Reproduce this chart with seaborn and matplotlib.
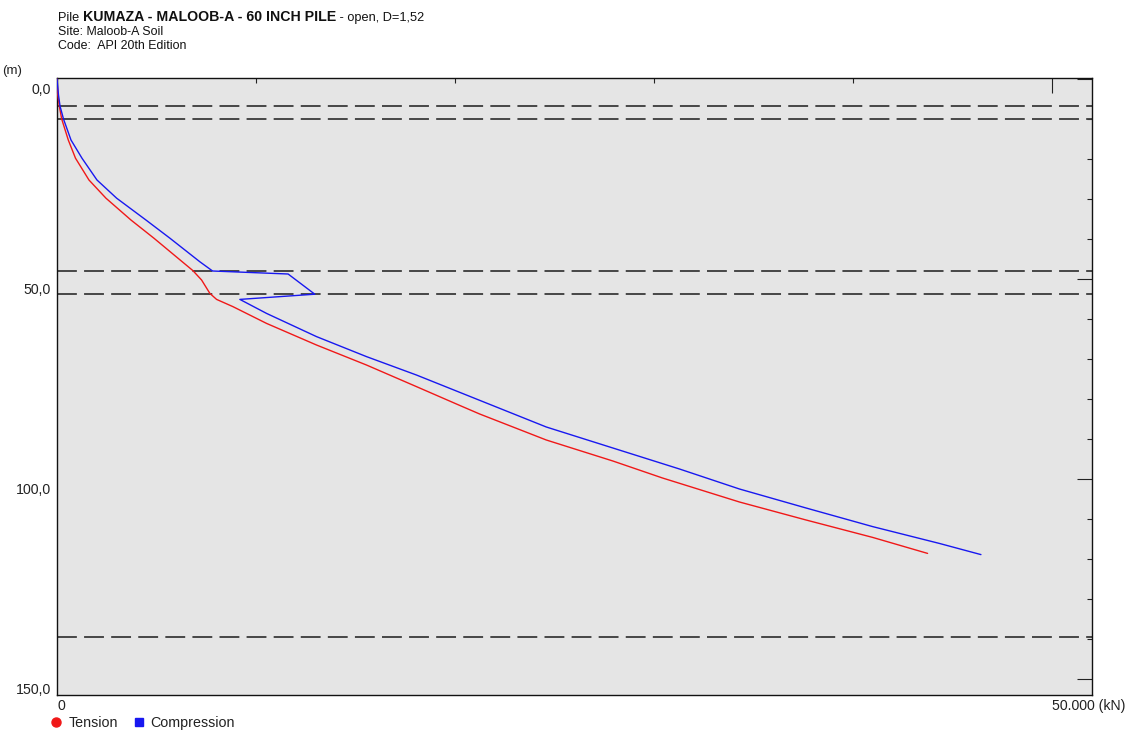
import matplotlib
matplotlib.use("Agg")
import matplotlib.pyplot as plt
import matplotlib.transforms as mtransforms
from matplotlib.lines import Line2D
import seaborn as sns
import pandas as pd

# pile capacity vs penetration
tension_depth = [0.0, 4.0, 6.75, 10.0, 15.25, 19.8, 25.25, 29.8, 35.25, 39.8, 47.9, 50.25,
                 53.6, 55.1, 56.9, 61.1, 66.5, 71.5, 76.9, 81.6, 83.75, 90.25, 95.5,
                 99.75, 105.75, 110.25, 114.6, 118.6]
tension_load = [0, 40, 115, 236, 567, 929, 1606, 2460, 3715, 4869, 6827, 7264,
                7681, 8017, 8835, 10527, 13037, 15547, 18057, 20231, 21235, 24583, 27927,
                30421, 34287, 37635, 40978, 43739]

compression_depth = [0.0, 4.0, 6.75, 10.0, 15.25, 19.8, 25.25, 29.8, 35.25, 39.8, 45.7, 48.0,
                     48.75, 53.8, 55.1, 58.6, 64.4, 69.4, 74.0, 79.0, 82.0, 87.0, 92.25,
                     97.5, 102.5, 107.25, 111.9, 116.1, 118.9]
compression_load = [0, 75, 151, 326, 703, 1255, 2008, 2997, 4468, 5673, 7179, 7816,
                    11611, 12952, 9187, 10527, 13037, 15547, 18057, 20567, 22073, 24583, 27927,
                    31275, 34287, 37635, 40978, 44327, 46420]

# soil layer boundaries (m)
layer_depths = [6.75, 10.0, 48.0, 53.8, 139.5]

x_ticks = [0, 50000]
x_tick_labels = ['0', '50.000 (kN)']
y_ticks = [0, 50, 100, 150]
y_tick_labels = ['0,0', '50,0', '100,0', '150,0']

df = pd.concat([
    pd.DataFrame({'load': tension_load, 'depth': tension_depth, 'series': 'Tension'}),
    pd.DataFrame({'load': compression_load, 'depth': compression_depth, 'series': 'Compression'}),
], ignore_index=True)

sns.set_style("white")
plt.rcParams['font.family'] = ['Liberation Sans', 'DejaVu Sans']

W, H = 1134, 734
fig = plt.figure(figsize=(W / 100, H / 100), dpi=100)
ax = fig.add_axes([57 / W, 1 - 695 / H, (1092 - 57) / W, (695 - 78) / H])
ax.set_facecolor('#e5e5e5')

for d in layer_depths:
    ax.axhline(d, color='#3a3a3a', lw=1.3, dashes=(11, 4), zorder=1)

sns.lineplot(data=df, x='load', y='depth', hue='series', sort=False, estimator=None,
             palette={'Tension': '#f01818', 'Compression': '#1818f0'},
             linewidth=1.0, legend=False, ax=ax, zorder=3)

ax.set_xlim(0, 52000)
ax.set_ylim(154, -0.25)
ax.set_xlabel('')
ax.set_ylabel('')

ax.set_xticks(x_ticks, x_tick_labels)
ax.set_xticks(range(0, 50001, 10000), minor=True)
ax.set_yticks(y_ticks, y_tick_labels)
ax.set_yticks(range(0, 151, 10), minor=True)

ax.tick_params(which='both', direction='in', top=True, right=True,
               color='#222222', width=0.8, labelcolor='#222222')
ax.tick_params(which='major', length=10.5, labelsize=10.2)
ax.tick_params(which='minor', length=3.4)
ax.tick_params(axis='x', which='major', pad=3)
ax.tick_params(axis='y', which='major', pad=4.3)
plt.setp(ax.get_xticklabels(), ha='left')
shift = mtransforms.ScaledTranslation(0, -0.04, fig.dpi_scale_trans)
for lab in ax.get_yticklabels():
    lab.set_va('top')
    lab.set_transform(lab.get_transform() + shift)

for s in ax.spines.values():
    s.set_visible(True)
    s.set_color('#111111')
    s.set_linewidth(1.0)

# header lines
fig.canvas.draw()
r = fig.canvas.get_renderer()
x = 58
for s, w, fs in [('Pile ', 'normal', 9.2),
                 ('KUMAZA - MALOOB-A - 60 INCH PILE', 'bold', 10.2),
                 (' - open, D=1,52', 'normal', 9.2)]:
    t = fig.text(x / W, 1 - 21 / H, s, fontsize=fs, fontweight=w,
                 va='baseline', ha='left', color='#111111')
    x = t.get_window_extent(r).x1
fig.text(58 / W, 1 - 35 / H, 'Site: Maloob-A Soil', fontsize=8.9,
         va='baseline', ha='left', color='#111111')
fig.text(58 / W, 1 - 49 / H, 'Code:  API 20th Edition', fontsize=8.9,
         va='baseline', ha='left', color='#111111')
fig.text(2 / W, 1 - 71 / H, '(m)', fontsize=9.5, va='center', ha='left', color='#222222')

handles = [Line2D([], [], marker='o', color='#f01818', linestyle='none', markersize=6.5),
           Line2D([], [], marker='s', color='#1818f0', linestyle='none', markersize=5.8)]
fig.legend(handles, ['Tension', 'Compression'], loc='center left',
           bbox_to_anchor=(49.7 / W, 1 - 723 / H), ncol=2, frameon=False,
           fontsize=10.3, borderpad=0, borderaxespad=0, handlelength=0.9,
           handletextpad=0.4, columnspacing=1.0, labelcolor='#222222')

plt.savefig('out.png', dpi=100)
